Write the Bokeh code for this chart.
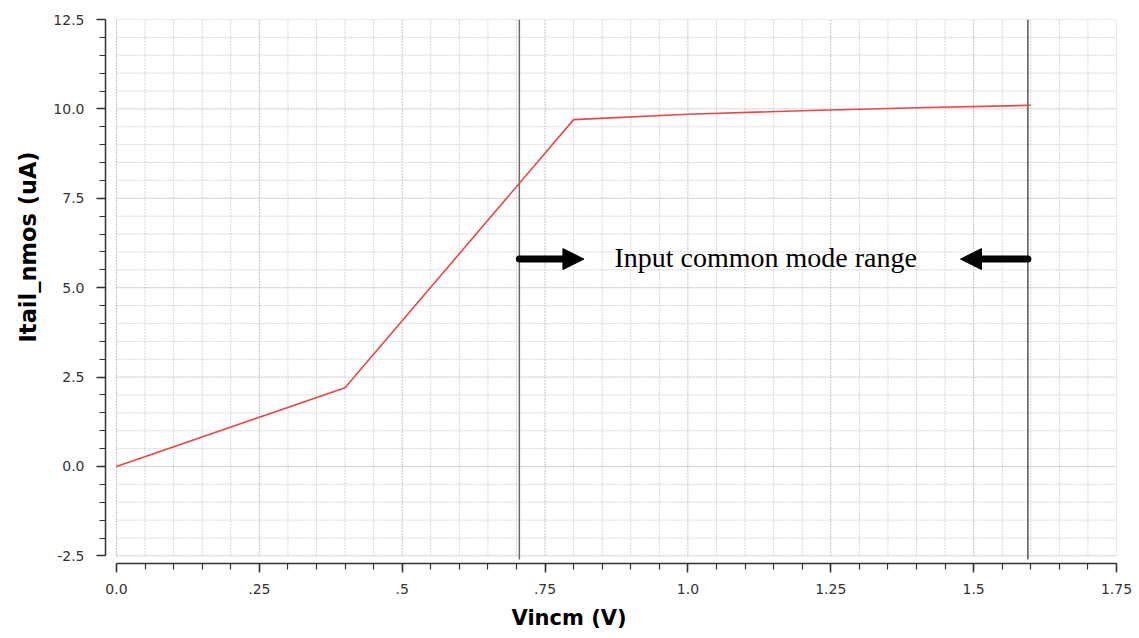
import numpy as np
from bokeh.plotting import figure
from bokeh.models import (Range1d, FixedTicker, NumeralTickFormatter, Label, Arrow,
                          NormalHead, Title)
from bokeh.embed import file_html
from bokeh.resources import INLINE

# ---- data ----
vincm = [0.0, 0.4, 0.8, 1.0, 1.2, 1.4, 1.6]
itail = [0.0, 2.2, 9.7, 9.85, 9.95, 10.03, 10.1]

range_lines = [0.705, 1.595]
range_colors = ["#6a6a6a", "#000000"]
range_widths = [1.5, 1.0]

arrow_y = 5.8
arrow_right = [0.705, 0.818]   # tail, tip
arrow_left = [1.595, 1.477]    # tail, tip
annot_text = "Input common mode range"
annot_x = 1.136
annot_y = 5.85

x_ticks = [0, 0.25, 0.5, 0.75, 1, 1.25, 1.5, 1.75]
x_labels = ["0.0", ".25", ".5", ".75", "1.0", "1.25", "1.5", "1.75"]
x_minor = [round(v, 2) for v in np.arange(0, 1.7501, 0.05)]
y_ticks = [-2.5, 0, 2.5, 5, 7.5, 10, 12.5]
y_minor = [round(v, 2) for v in np.arange(-2.5, 12.5001, 0.5)]

x_title = "Vincm (V)"
y_title = "Itail_nmos (uA)"

# ---- figure ----
p = figure(width=1135, height=638, output_backend="svg", toolbar_location=None,
           x_range=Range1d(-0.0192, 1.75), y_range=Range1d(-2.713, 12.5),
           min_border_left=105, min_border_right=19, min_border_top=19, min_border_bottom=75)
p.outline_line_color = None
p.background_fill_color = "white"

# grid (drawn from the tick arrays, limited to the data rectangle)
p.xgrid.visible = False
p.ygrid.visible = False
xmaj = set(x_ticks)
ymaj = set(y_ticks)
gx_min = [v for v in x_minor if v not in xmaj]
gy_min = [v for v in y_minor if v not in ymaj]
p.segment(x0=gx_min, y0=[y_ticks[0]] * len(gx_min), x1=gx_min, y1=[y_ticks[-1]] * len(gx_min),
          line_color="#d6d6d6", line_width=1, line_dash="2 1")
p.segment(x0=[x_ticks[0]] * len(gy_min), y0=gy_min, x1=[x_ticks[-1]] * len(gy_min), y1=gy_min,
          line_color="#d6d6d6", line_width=1, line_dash="2 1")
p.segment(x0=x_ticks, y0=[y_ticks[0]] * len(x_ticks), x1=x_ticks, y1=[y_ticks[-1]] * len(x_ticks),
          line_color="#c0c0c0", line_width=1, line_dash="2 1")
p.segment(x0=[x_ticks[0]] * len(y_ticks), y0=y_ticks, x1=[x_ticks[-1]] * len(y_ticks), y1=y_ticks,
          line_color="#c0c0c0", line_width=1, line_dash="2 1")

# range marker lines
p.segment(x0=range_lines, y0=[-2.6] * 2, x1=range_lines, y1=[y_ticks[-1]] * 2,
          line_color=range_colors, line_width=range_widths)

# data
p.line(vincm, itail, line_color="#e8474a", line_width=1.6)

# arrows: shaft with round tail, head drawn separately
head_frac = 0.8
for tail, tip in (arrow_right, arrow_left):
    base = tail + (tip - tail) * head_frac
    p.segment(x0=[tail], y0=[arrow_y], x1=[base], y1=[arrow_y],
              line_color="black", line_width=7, line_cap="round")
    p.add_layout(Arrow(end=NormalHead(size=21, fill_color="black", line_color="black", line_width=1),
                       x_start=tail, y_start=arrow_y, x_end=tip, y_end=arrow_y,
                       line_alpha=0))

p.add_layout(Label(x=annot_x, y=annot_y, text=annot_text, text_align="center",
                   text_baseline="middle", text_font="Liberation Serif",
                   text_font_size="28px", text_color="black"))

# axes
for ax in (p.xaxis[0], p.yaxis[0]):
    ax.axis_line_color = "#333333"
    ax.axis_line_width = 1.5
    ax.major_tick_line_color = "#333333"
    ax.minor_tick_line_color = "#333333"
    ax.major_tick_line_width = 1.5
    ax.minor_tick_line_width = 1.2
    ax.major_tick_out = 9
    ax.major_tick_in = 0
    ax.minor_tick_out = 6
    ax.minor_tick_in = 0
    ax.major_label_text_font = "DejaVu Sans"
    ax.major_label_text_font_size = "14px"
    ax.major_label_text_color = "#333333"

p.xaxis.ticker = FixedTicker(ticks=x_ticks, minor_ticks=x_minor)
p.xaxis.bounds = (x_ticks[0], x_ticks[-1])
p.xaxis.major_label_overrides = dict(zip(x_ticks, x_labels))
p.xaxis.major_label_standoff = 11

p.yaxis.ticker = FixedTicker(ticks=y_ticks, minor_ticks=y_minor)
p.yaxis.bounds = (y_ticks[0], y_ticks[-1])
p.yaxis.formatter = NumeralTickFormatter(format="0.0")
p.yaxis.major_label_standoff = 12

# axis titles, placed off-centre like the reference
p.add_layout(Title(text=x_title, align="left", offset=406, text_font="DejaVu Sans",
                   text_font_style="bold", text_font_size="21px", text_color="black",
                   standoff=15), "below")
p.add_layout(Title(text=y_title, align="left", offset=221, text_font="DejaVu Sans",
                   text_font_style="bold", text_font_size="22.5px", text_color="black",
                   standoff=20), "left")

open("out.html", "w").write(file_html(p, INLINE))
